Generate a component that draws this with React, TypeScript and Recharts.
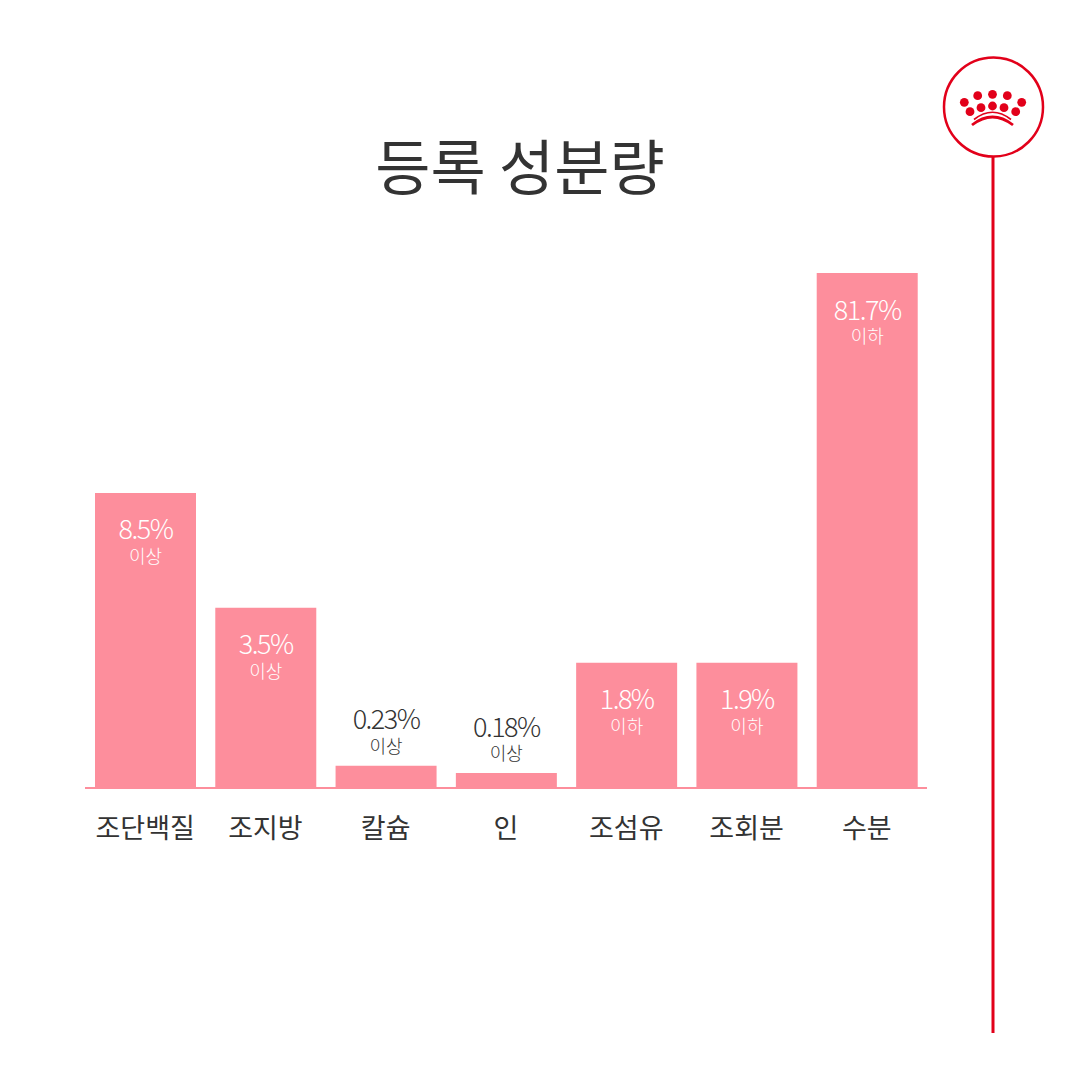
import React from 'react';
import { BarChart, Bar, XAxis, YAxis, LabelList, ReferenceLine } from 'recharts';

// 성분 이름
const categories = ['조단백질', '조지방', '칼슘', '인', '조섬유', '조회분', '수분'];
// 등록 성분량 (%)
const values = [8.5, 3.5, 0.23, 0.18, 1.8, 1.9, 81.7];
// 이상 / 이하
const qualifiers = ['이상', '이상', '이상', '이상', '이하', '이하', '이하'];
// 그림에서 읽은 막대 길이 (가장 긴 막대 = 100, 비례하지 않는 디자인)
const barLengths = [57.3, 35, 4.3, 2.9, 24.3, 24.3, 100];

const PINK = '#FD8E9C';
const RED = '#E2001A';
const DARK = '#333333';
const FONT = '"Noto Sans CJK KR", "Noto Sans", sans-serif';

const data = categories.map((name, i) => ({
  name,
  length: barLengths[i],
  value: values[i],
  qualifier: qualifiers[i],
}));

const ValueLabel = (props: any) => {
  const { x, y, width, height, index } = props;
  const cx = Number(x) + Number(width) / 2;
  const top = Number(y);
  const inside = Number(height) > 60;
  const color = inside ? '#ffffff' : DARK;
  const vy = inside ? top + 35 : top - 48;
  const qy = inside ? top + 62 : top - 21;
  return (
    <g>
      <text x={cx} y={vy} textAnchor="middle" dominantBaseline="central" fill={color}
        style={{ fontFamily: FONT, fontSize: 27, fontWeight: 300, letterSpacing: -1.5 }}>
        {`${values[index]}%`}
      </text>
      <text x={cx} y={qy} textAnchor="middle" dominantBaseline="central" fill={color}
        style={{ fontFamily: FONT, fontSize: 18, fontWeight: 300 }}>
        {qualifiers[index]}
      </text>
    </g>
  );
};

const CategoryTick = (props: any) => {
  const { x, y, payload } = props;
  return (
    <text x={x} y={Number(y) + 30} textAnchor="middle" dominantBaseline="central" fill={DARK}
      style={{ fontFamily: FONT, fontSize: 27 }}>
      {payload.value}
    </text>
  );
};

function Logo() {
  const dots = [
    [964.3, 102.3], [977.7, 95.7], [992.5, 94.3], [1007.3, 95.7], [1021.7, 102.3],
    [970, 111.7], [981, 107.7], [992.5, 106], [1004, 107.7], [1015.7, 111.7],
  ];
  return (
    <svg width={1080} height={1080} style={{ position: 'absolute', left: 0, top: 0, pointerEvents: 'none' }}>
      <line x1={993} y1={157} x2={993} y2={1033} stroke={RED} strokeWidth={3} />
      <circle cx={993.5} cy={107} r={49.5} fill="#fff" stroke={RED} strokeWidth={2.5} />
      {dots.map(([cx, cy], i) => (
        <circle key={i} cx={cx} cy={cy} r={4.4} fill={RED} />
      ))}
      <path d="M972 125 Q992.5 109 1013 125" fill="none" stroke={RED} strokeWidth={2.8} />
      <path d="M974 119.5 Q992.5 105 1011 119.5" fill="none" stroke={RED} strokeWidth={1.6} />
    </svg>
  );
}

export default function App() {
  return (
    <div style={{ position: 'absolute', left: 0, top: 0, width: 1080, height: 1080, background: '#fff', fontFamily: FONT }}>
      <div style={{ position: 'absolute', left: 0, width: 1040, top: 128, textAlign: 'center', fontSize: 60, fontWeight: 400, color: DARK, lineHeight: '72px' }}>
        등록 성분량
      </div>
      <BarChart
        width={1080}
        height={1080}
        data={data}
        margin={{ top: 273, right: 153, bottom: 232, left: 85 }}
        barCategoryGap={19}
        style={{ position: 'absolute', left: 0, top: 0 }}
      >
        <XAxis dataKey="name" height={60} axisLine={false} tickLine={false} tick={<CategoryTick />} interval={0} />
        <YAxis hide domain={[0, 100]} />
        <ReferenceLine y={0} stroke={PINK} strokeWidth={2} />
        <Bar dataKey="length" fill={PINK} barSize={101} isAnimationActive={false}>
          <LabelList dataKey="length" content={<ValueLabel />} />
        </Bar>
      </BarChart>
      <Logo />
    </div>
  );
}
